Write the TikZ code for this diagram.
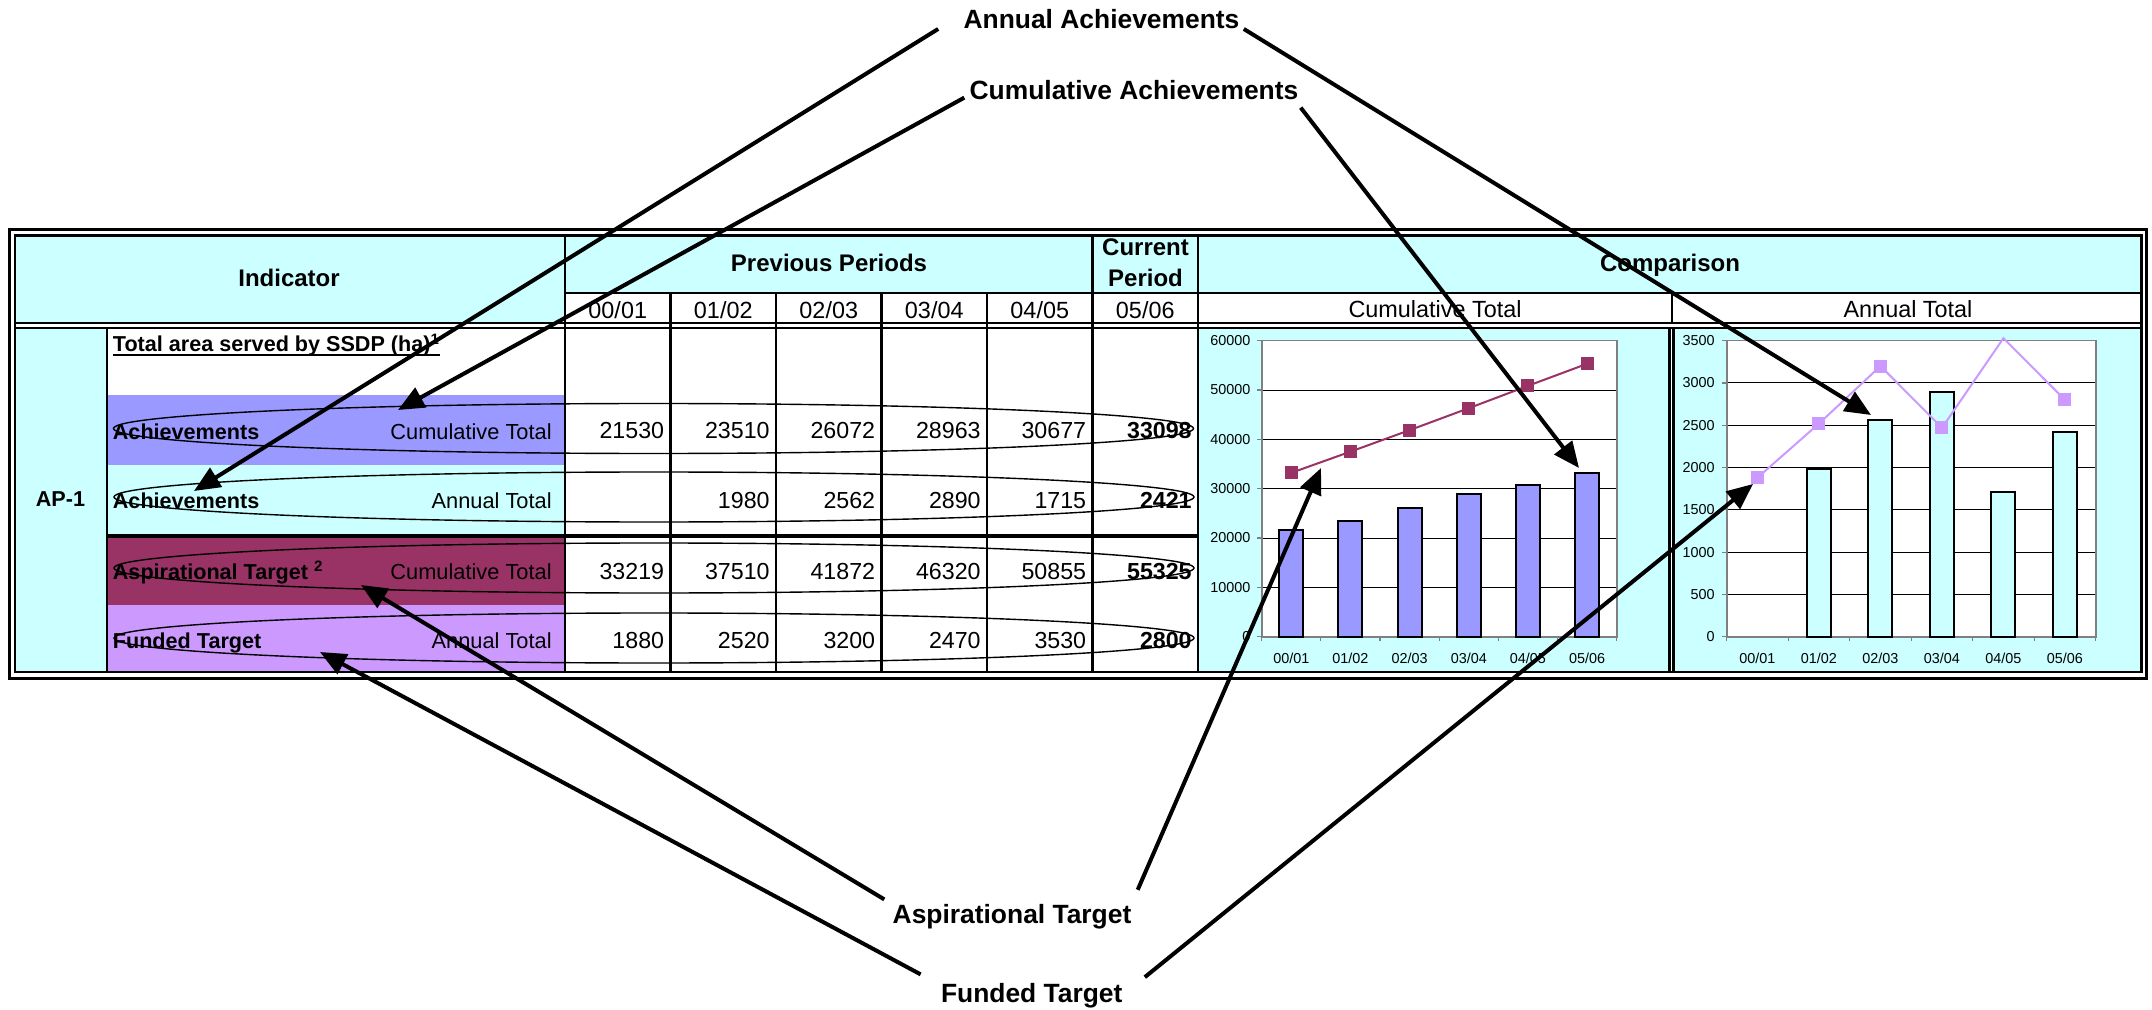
\documentclass[tikz,border=0pt]{standalone}
\usepackage{fontspec}
\setmainfont{Liberation Sans}
\usetikzlibrary{arrows.meta}
\definecolor{cyanbg}{HTML}{CCFFFF}
\definecolor{bluebar}{HTML}{9999FF}
\definecolor{plum}{HTML}{993366}
\definecolor{lilac}{HTML}{CC99FF}
\definecolor{plotgray}{HTML}{808080}
\newcommand\thickul[1]{\setbox0=\hbox{#1}\rlap{\rule[-2.2pt]{\wd0}{1.1pt}}\box0}
\tikzset{
  tabline/.style={line width=1.25pt},
  hdtext/.style={font=\fontsize{12}{14}\selectfont\bfseries,inner sep=0pt,anchor=base},
  coltext/.style={font=\fontsize{11.7}{14}\selectfont,inner sep=0pt,anchor=base},
  numtext/.style={font=\fontsize{11.6}{14}\selectfont,inner sep=0pt,anchor=base east},
  numbold/.style={numtext,font=\fontsize{11.6}{14}\selectfont\bfseries},
  lbltext/.style={font=\fontsize{10.9}{13}\selectfont,inner sep=0pt,anchor=base east},
  lblbold/.style={font=\fontsize{10.8}{13}\selectfont\bfseries,inner sep=0pt,anchor=base west},
  chtext/.style={font=\fontsize{7.2}{9}\selectfont,inner sep=0pt},
  anntext/.style={font=\fontsize{13.2}{15}\selectfont\bfseries,inner sep=0pt,anchor=base},
  ring/.style={line width=0.7pt},
  bar/.style={draw=black,line width=1pt},
  callout/.style={line width=2pt,-{Triangle[length=13pt,width=11pt]}},
}
\begin{document}
\begin{tikzpicture}[x=0.5pt,y=-0.5pt]
\useasboundingbox (0,0) rectangle (2152,1010);
% cell colours
\fill[cyanbg] (15,235.5) rectangle (2141.5,293);
\fill[cyanbg] (15,293) rectangle (565,323);
\fill[cyanbg] (15,328) rectangle (107,672);
\fill[bluebar] (107,395) rectangle (565,465);
\fill[cyanbg] (107,465) rectangle (565,534);
\fill[plum] (107,537) rectangle (565,605);
\fill[lilac] (107,605) rectangle (565,672);
\fill[cyanbg] (1198,328) rectangle (1669.5,672);
\fill[cyanbg] (1673.5,328) rectangle (2141.5,672);

% table rules
\draw[line width=1.5pt] (9.5,230) rectangle (2146.5,678);
\draw[tabline] (15,235.5) rectangle (2141.5,672);
\draw[tabline] (15,323) -- (2141.5,323) (15,328) -- (2141.5,328);
\draw[tabline] (565,293) -- (2141.5,293);
\draw[tabline] (565,235.5) -- (565,672) (107,328) -- (107,672);
\foreach \xx in {670.5,776,881.5,987} \draw[tabline] (\xx,293) -- (\xx,672);
\foreach \xx in {1092.5,1198} \draw[tabline] (\xx,235.5) -- (\xx,672);
\draw[tabline] (1672,293) -- (1672,323);
\draw[tabline] (1669.5,328) -- (1669.5,672) (1673.5,328) -- (1673.5,672);
\draw[line width=2pt] (107,535.5) -- (1198,535.5);

% header
\node[hdtext] (hInd) at (289,286.7) {Indicator};
\node[hdtext] (hPrev) at (829,271.7) {Previous Periods};
\node[hdtext] (hCur) at (1145.5,256) {Current};
\node[hdtext] (hPer) at (1145.5,286.7) {Period};
\node[hdtext] (hComp) at (1670,271.7) {Comparison};
\foreach \a/\b [count=\i] in {00/01,01/02,02/03,03/04,04/05,05/06}
  \node[coltext] (yr\i) at ({565+105.5*(\i-0.5)},318.3) {\a/\b};
\node[coltext] (hCum) at (1435,317.5) {Cumulative Total};
\node[coltext] (hAnn) at (1908,317.5) {Annual Total};

% indicator column
\node[font=\fontsize{10.8}{13}\selectfont\bfseries,inner sep=0pt,anchor=base] (ap) at (60.5,506.7) {AP-1};
\node[lblbold] (total) at (112.5,352) {\thickul{Total area served by SSDP (ha)\textsuperscript{1}}};
\node[lblbold] (lab1) at (112.5,439.3) {Achievements};
\node[lbltext] (sub1) at (552,439.3) {Cumulative Total};
\node[lblbold] (lab2) at (112.5,508.7) {Achievements};
\node[lbltext] (sub2) at (552,508.7) {Annual Total};
\node[lblbold] (lab3) at (112.5,579) {Aspirational Target \textsuperscript{2}};
\node[lbltext] (sub3) at (552,579) {Cumulative Total};
\node[lblbold] (lab4) at (112.5,648.5) {Funded Target};
\node[lbltext] (sub4) at (552,648.5) {Annual Total};

% figures
\foreach \v [count=\c] in {21530,23510,26072,28963,30677}
  \node[numtext] (ca\c) at ({565+105.5*\c-6},438.5) {\v};
\node[numbold] (ca6) at (1192,438.5) {33098};
\foreach \v [count=\c from 2] in {1980,2562,2890,1715}
  \node[numtext] (aa\c) at ({565+105.5*\c-6},508.5) {\v};
\node[numbold] (aa6) at (1192,508.5) {2421};
\foreach \v [count=\c] in {33219,37510,41872,46320,50855}
  \node[numtext] (ct\c) at ({565+105.5*\c-6},579) {\v};
\node[numbold] (ct6) at (1192,579) {55325};
\foreach \v [count=\c] in {1880,2520,3200,2470,3530}
  \node[numtext] (ft\c) at ({565+105.5*\c-6},648.5) {\v};
\node[numbold] (ft6) at (1192,648.5) {2800};

% chart: cumulative
\fill[white] (1261.7,340.7) rectangle (1616.7,636.7);
\foreach \k in {1,...,5}
  \draw[line width=0.5pt] (1261.7,{636.7-49.333*\k}) -- (1616.7,{636.7-49.333*\k});
\draw[plotgray,line width=0.8pt] (1261.7,340.7) rectangle (1616.7,636.7);
\foreach \k/\lab in {0/0,1/10000,2/20000,3/30000,4/40000,5/50000,6/60000} {
  \draw[plotgray,line width=0.6pt] (1257,{636.7-49.333*\k}) -- (1261.7,{636.7-49.333*\k});
  \node[chtext,anchor=east] (cy\k) at (1250.7,{636.7-49.333*\k}) {\lab};
}
\foreach \j in {0,...,6} \draw[plotgray,line width=0.6pt] ({1261.7+59.167*\j},636.7) -- ++(0,4);
\foreach \a/\b [count=\i] in {00/01,01/02,02/03,03/04,04/05,05/06}
  \node[chtext,anchor=base] (cx\i) at ({1261.7+59.167*(\i-0.5)},663.3) {\a/\b};
\foreach \v [count=\i] in {21.530,23.510,26.072,28.963,30.677,33.098}
  \draw[bar,fill=bluebar] ({1261.7+59.167*(\i-0.5)-12},636.7) rectangle ++(24,{-4.9333*\v});
\foreach \v [count=\i] in {33.219,37.510,41.872,46.320,50.855,55.325}
  \coordinate (asp\i) at ({1261.7+59.167*(\i-0.5)},{636.7-4.9333*\v});
\draw[plum,line width=1pt] (asp1) -- (asp2) -- (asp3) -- (asp4) -- (asp5) -- (asp6);
\foreach \i in {1,...,6} \fill[plum] (asp\i) ++(-6.5,-6.5) rectangle ++(13,13);

% chart: annual
\fill[white] (1726.7,340.7) rectangle (2095.7,636.7);
\foreach \k in {1,...,7}
  \draw[line width=0.5pt] (1726.7,{636.7-42.286*\k}) -- (2095.7,{636.7-42.286*\k});
\draw[plotgray,line width=0.8pt] (1726.7,340.7) rectangle (2095.7,636.7);
\foreach \k/\lab in {0/0,1/500,2/1000,3/1500,4/2000,5/2500,6/3000,7/3500} {
  \draw[plotgray,line width=0.6pt] (1722,{636.7-42.286*\k}) -- (1726.7,{636.7-42.286*\k});
  \node[chtext,anchor=east] (ay\k) at (1715,{636.7-42.286*\k}) {\lab};
}
\foreach \j in {0,...,6} \draw[plotgray,line width=0.6pt] ({1726.7+61.5*\j},636.7) -- ++(0,4);
\foreach \a/\b [count=\i] in {00/01,01/02,02/03,03/04,04/05,05/06}
  \node[chtext,anchor=base] (ax\i) at ({1726.7+61.5*(\i-0.5)},663.3) {\a/\b};
\foreach \v [count=\i from 2] in {1.980,2.562,2.890,1.715,2.421}
  \draw[bar,fill=cyanbg] ({1726.7+61.5*(\i-0.5)-12},636.7) rectangle ++(24,{-84.571*\v});
\foreach \v [count=\i] in {1.880,2.520,3.200,2.470,3.530,2.800}
  \coordinate (fun\i) at ({1726.7+61.5*(\i-0.5)},{636.7-84.571*\v});
\draw[lilac,line width=1pt] (fun1) -- (fun2) -- (fun3) -- (fun4) -- (fun5) -- (fun6);
\foreach \i in {1,2,3,4,6} \fill[lilac] (fun\i) ++(-6.5,-6.5) rectangle ++(13,13);

% rings round the rows
\draw[ring] (653.5,428.5) ellipse [x radius=270pt, y radius=12.5pt];
\draw[ring] (654,497) ellipse [x radius=270pt, y radius=12.5pt];
\draw[ring] (654,568) ellipse [x radius=270pt, y radius=12.5pt];
\draw[ring] (654,638) ellipse [x radius=270pt, y radius=12.5pt];

% callouts
\node[anntext] (annual) at (1101.5,28.3) {Annual Achievements};
\node[anntext] (cumul) at (1134,100) {Cumulative Achievements};
\node[anntext] (aspir) at (1012,923.3) {Aspirational Target};
\node[anntext] (funded) at (1031.7,1002.7) {Funded Target};
\coordinate (tipAnnRow) at (194,491);
\coordinate (tipAnnBar) at (1871,415);
\coordinate (tipCumRow) at (398,410);
\coordinate (tipCumBar) at (1579,468);
\coordinate (tipAspRow) at (361,585);
\coordinate (tipAspPt) at (1321,468);
\coordinate (tipFunRow) at (320,652);
\coordinate (tipFunPt) at (1753,484);
\draw[callout] ([xshift=-12.5pt]annual.south west) -- (tipAnnRow);
\draw[callout] ([xshift=2pt]annual.south east) -- (tipAnnBar);
\draw[callout] ([xshift=-2.5pt,yshift=1.5pt]cumul.south west) -- (tipCumRow);
\draw[callout] ([xshift=1pt,yshift=-3.5pt]cumul.south east) -- (tipCumBar);
\draw[callout] ([xshift=-4pt,yshift=2.2pt]aspir.north west) -- (tipAspRow);
\draw[callout] ([xshift=3pt,yshift=7pt]aspir.north east) -- (tipAspPt);
\draw[callout] ([xshift=-10pt,yshift=4.4pt]funded.north west) -- (tipFunRow);
\draw[callout] ([xshift=11pt,yshift=3pt]funded.north east) -- (tipFunPt);
\end{tikzpicture}
\end{document}
